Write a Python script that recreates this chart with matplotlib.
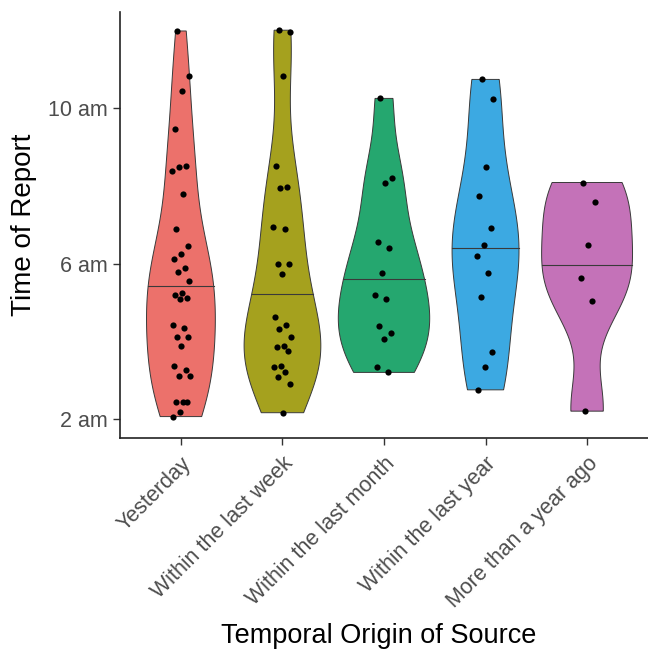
import numpy as np
import matplotlib
matplotlib.use("Agg")
import matplotlib.pyplot as plt
from matplotlib.patches import Polygon

plt.rcParams['font.family'] = ['Liberation Sans', 'DejaVu Sans']

categories = ["Yesterday", "Within the last week", "Within the last month",
              "Within the last year", "More than a year ago"]

yesterday = [12.0, 10.84, 10.45, 9.48, 8.52, 8.5, 8.39, 7.8, 6.9, 6.45, 6.25, 6.12,
             5.88, 5.79, 5.56, 5.23, 5.19, 5.1, 5.08, 4.41, 4.33, 4.1, 4.1, 3.88,
             3.35, 3.25, 3.1, 3.1, 2.43, 2.43, 2.43, 2.18, 2.05]
last_week = [12.02, 11.98, 10.84, 8.52, 7.98, 7.96, 6.95, 6.89, 6.0, 5.98, 5.72,
             4.63, 4.41, 4.31, 4.1, 3.88, 3.85, 3.74, 3.35, 3.32, 3.21, 3.08, 2.88, 2.15]
last_month = [10.26, 8.2, 8.07, 6.56, 6.39, 5.76, 5.2, 5.08, 4.4, 4.2, 4.04, 3.34, 3.19]
last_year = [10.75, 10.25, 8.5, 7.75, 6.92, 6.48, 6.2, 5.76, 5.13, 3.72, 3.32, 2.74]
year_ago = [8.09, 7.58, 6.48, 5.62, 5.04, 2.19]

groups = [yesterday, last_week, last_month, last_year, year_ago]
colors = ["#EC716B", "#A5A11E", "#25A76F", "#3CA9E2", "#C472B8"]

y_ticks = [2, 6, 10]
y_tick_labels = ["2 am", "6 am", "10 am"]


def nrd0(x):
    x = np.asarray(x, float)
    sd = np.std(x, ddof=1)
    iqr = np.subtract(*np.percentile(x, [75, 25]))
    lo = min(sd, iqr / 1.34)
    if lo <= 0:
        lo = sd
    return 0.9 * lo * len(x) ** (-0.2)


dens_list = []
for g in groups:
    x = np.asarray(g, float)
    bw = nrd0(x)
    grid = np.linspace(x.min(), x.max(), 512)
    d = np.exp(-0.5 * ((grid[:, None] - x[None, :]) / bw) ** 2).sum(axis=1)
    d /= (len(x) * bw * np.sqrt(2 * np.pi))
    dens_list.append((grid, d))

dmax = max(d.max() for _, d in dens_list)

fig = plt.figure(figsize=(6.48, 6.54), dpi=100)
ax = fig.add_axes([120 / 648, 1 - 437.9 / 654, 1 - 120 / 648, (437.9 - 11.6) / 654])

edge = "#3a3a3a"
for i, ((grid, d), col, g) in enumerate(zip(dens_list, colors, groups)):
    pos = i + 1
    w = d / dmax * 0.45
    xs = np.concatenate([pos - w, (pos + w)[::-1]])
    ys = np.concatenate([grid, grid[::-1]])
    ax.add_patch(Polygon(np.column_stack([xs, ys]), closed=True, facecolor=col,
                         edgecolor=edge, lw=0.7, zorder=2))
    cdf = np.cumsum(d) / d.sum()
    ym = np.interp(0.5, cdf, grid)
    wm = np.interp(ym, grid, w)
    ax.plot([pos - wm, pos + wm], [ym, ym], color=edge, lw=0.8, zorder=2.5)
    n = len(g)
    jit = (np.modf(np.arange(n) * 0.618034 + 0.3)[0] - 0.5) * 0.18
    ax.scatter(pos + jit, g, s=20, color="black", zorder=3, linewidths=0)

ax.set_xlim(0.4, 5.6)
ax.set_ylim(1.5, 12.5)
ax.set_xticks(range(1, 6))
ax.set_xticklabels(categories, rotation=45, ha="right", rotation_mode="anchor",
                   fontsize=15.5, color="#4D4D4D")
ax.set_yticks(y_ticks)
ax.set_yticklabels(y_tick_labels, fontsize=15.5, color="#4D4D4D")
ax.tick_params(axis="both", length=5, width=1, color="#333333")
ax.tick_params(axis="x", pad=6)
ax.tick_params(axis="y", pad=4)
for s in ["top", "right"]:
    ax.spines[s].set_visible(False)
for s in ["left", "bottom"]:
    ax.spines[s].set_linewidth(1.2)
    ax.spines[s].set_color("#222222")
ax.set_xlabel("Temporal Origin of Source", fontsize=19.5, color="black",
              labelpad=8, x=0.49)
ax.set_ylabel("Time of Report", fontsize=20, color="black", labelpad=8)

fig.savefig("out.png", dpi=100)
